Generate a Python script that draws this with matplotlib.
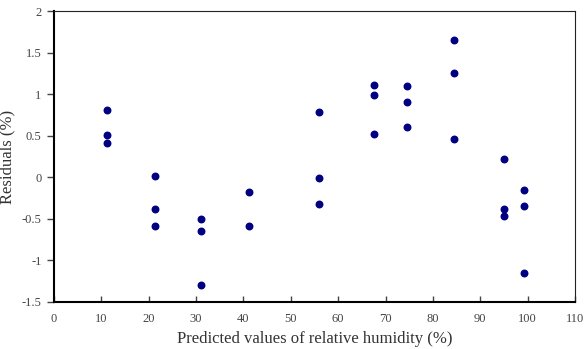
import numpy as np
import matplotlib.pyplot as plt

# Predicted values (x) and residuals (y)
pred = [11.2, 11.2, 11.2,
        21.3, 21.3, 21.3,
        31.0, 31.0, 31.0,
        41.2, 41.2,
        55.9, 55.9, 55.9,
        67.6, 67.6, 67.6,
        74.5, 74.5, 74.5,
        84.5, 84.5, 84.5,
        95.0, 95.0, 95.0,
        99.2, 99.2, 99.2]
resid = [0.81, 0.51, 0.41,
         0.02, -0.38, -0.58,
         -0.50, -0.65, -1.30,
         -0.18, -0.58,
         0.78, -0.01, -0.32,
         1.11, 0.99, 0.52,
         1.10, 0.91, 0.61,
         1.65, 1.26, 0.46,
         0.22, -0.38, -0.47,
         -0.15, -0.35, -1.15]

xticks = np.arange(0, 111, 10)
yticks = [-1.5, -1, -0.5, 0, 0.5, 1, 1.5, 2]
ytick_labels = ['-1.5', '-1', '-0.5', '0', '0.5', '1', '1.5', '2']

plt.rcParams['font.family'] = ['Liberation Serif', 'DejaVu Serif']

fig = plt.figure(figsize=(5.84, 3.49), dpi=100)
ax = fig.add_axes([54 / 584, 47 / 349, 521 / 584, 291 / 349])

ax.scatter(pred, resid, s=22, color='#000080', zorder=3)

ax.set_xlim(0, 110)
ax.set_ylim(-1.5, 2)
ax.set_xticks(xticks)
ax.set_yticks(yticks)
ax.set_yticklabels(ytick_labels)

ax.tick_params(axis='x', direction='in', length=4, width=1, labelsize=9, colors='#444444', pad=8)
ax.tick_params(axis='y', direction='out', length=5, width=1, labelsize=9, colors='#444444', pad=4)

ax.spines['left'].set_linewidth(1.5)
ax.spines['bottom'].set_linewidth(1.5)
ax.spines['top'].set_linewidth(0.8)
ax.spines['right'].set_linewidth(0.8)
ax.spines['top'].set_color('#222222')
ax.spines['right'].set_color('#222222')

ax.set_xlabel('Predicted values of relative humidity (%)', fontsize=12, color='#333333', labelpad=4)
ax.set_ylabel('Residuals (%)', fontsize=12, color='#333333')
ax.yaxis.set_label_coords(-0.075, 0.5)

fig.savefig('out.png', dpi=100)
